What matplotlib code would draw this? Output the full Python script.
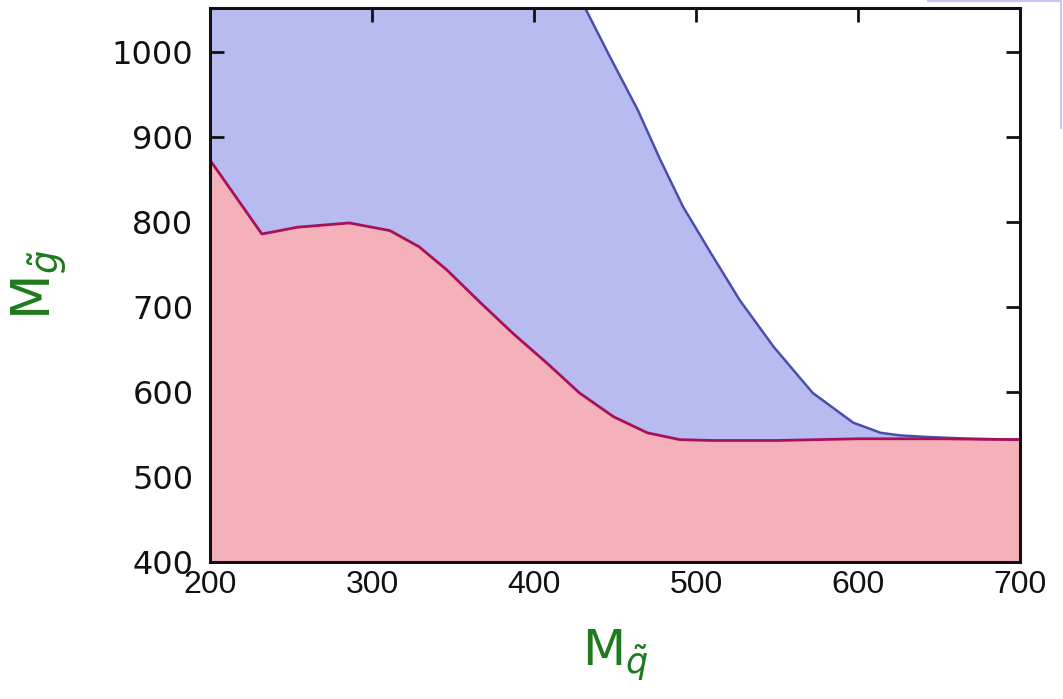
import matplotlib
matplotlib.use("Agg")
import matplotlib.pyplot as plt
from matplotlib.lines import Line2D

# squark mass values and the two exclusion boundaries
red_x = [200, 232, 254, 286, 311, 329, 346, 367, 387, 408, 428, 449, 470, 490, 510, 550, 600, 650, 700]
red_y = [873, 786, 794, 799, 790, 771, 744, 705, 669, 634, 599, 571, 552, 544, 543, 543, 545, 545, 544]

blue_x = [200, 420, 431.5, 447, 464, 478, 492, 509, 527, 548, 572, 597, 614, 626, 644, 670, 700]
blue_y = [1095, 1095, 1052, 994, 932, 873, 818, 764, 708, 653, 599, 564, 552, 549, 547, 545, 544]

x_ticks = [200, 300, 400, 500, 600, 700]
y_ticks = [400, 500, 600, 700, 800, 900, 1000]

plt.rcParams["mathtext.fontset"] = "dejavusans"

fig = plt.figure(figsize=(10.63, 6.99), dpi=100)
ax = fig.add_axes([0.1976, 0.196, 0.762, 0.7926])

y_floor = 400
ax.fill_between(blue_x, y_floor, blue_y, color="#b8bbf0", lw=0, zorder=1)
ax.fill_between(red_x, y_floor, red_y, color="#f4b1b9", lw=0, zorder=2)
ax.plot(blue_x, blue_y, color="#4a4fab", lw=1.8, zorder=3)
ax.plot(red_x, red_y, color="#a8105a", lw=2.0, zorder=4)

ax.set_xlim(200, 700)
ax.set_ylim(400, 1052)
ax.set_xticks(x_ticks)
ax.set_yticks(y_ticks)

for sp in ax.spines.values():
    sp.set_linewidth(2.2)
    sp.set_color("#111111")
    sp.set_zorder(5)

ax.tick_params(direction="in", length=10, width=2, top=True, right=True,
               colors="#111111")
ax.tick_params(axis="x", pad=6)
ax.tick_params(axis="y", pad=12, labelsize=23)
# x tick labels look narrower than the y ones
for lab in ax.get_xticklabels():
    lab.set_family("Liberation Sans")
    lab.set_fontsize(23)

green = "#1e7a1e"
ax.set_xlabel(r"$\mathrm{M}_{\tilde{q}}$", fontsize=36, color=green, labelpad=20)
ax.set_ylabel(r"$\mathrm{M}_{\tilde{g}}$", fontsize=38, color=green, labelpad=30)

# partial frame visible at the top right edge
fig.add_artist(Line2D([928 / 1063, 1061 / 1063, 1061 / 1063],
                      [1 - 1 / 699, 1 - 1 / 699, 1 - 128 / 699],
                      transform=fig.transFigure, color="#c4c6f4", lw=1.5))

fig.savefig("out.png", dpi=100)
